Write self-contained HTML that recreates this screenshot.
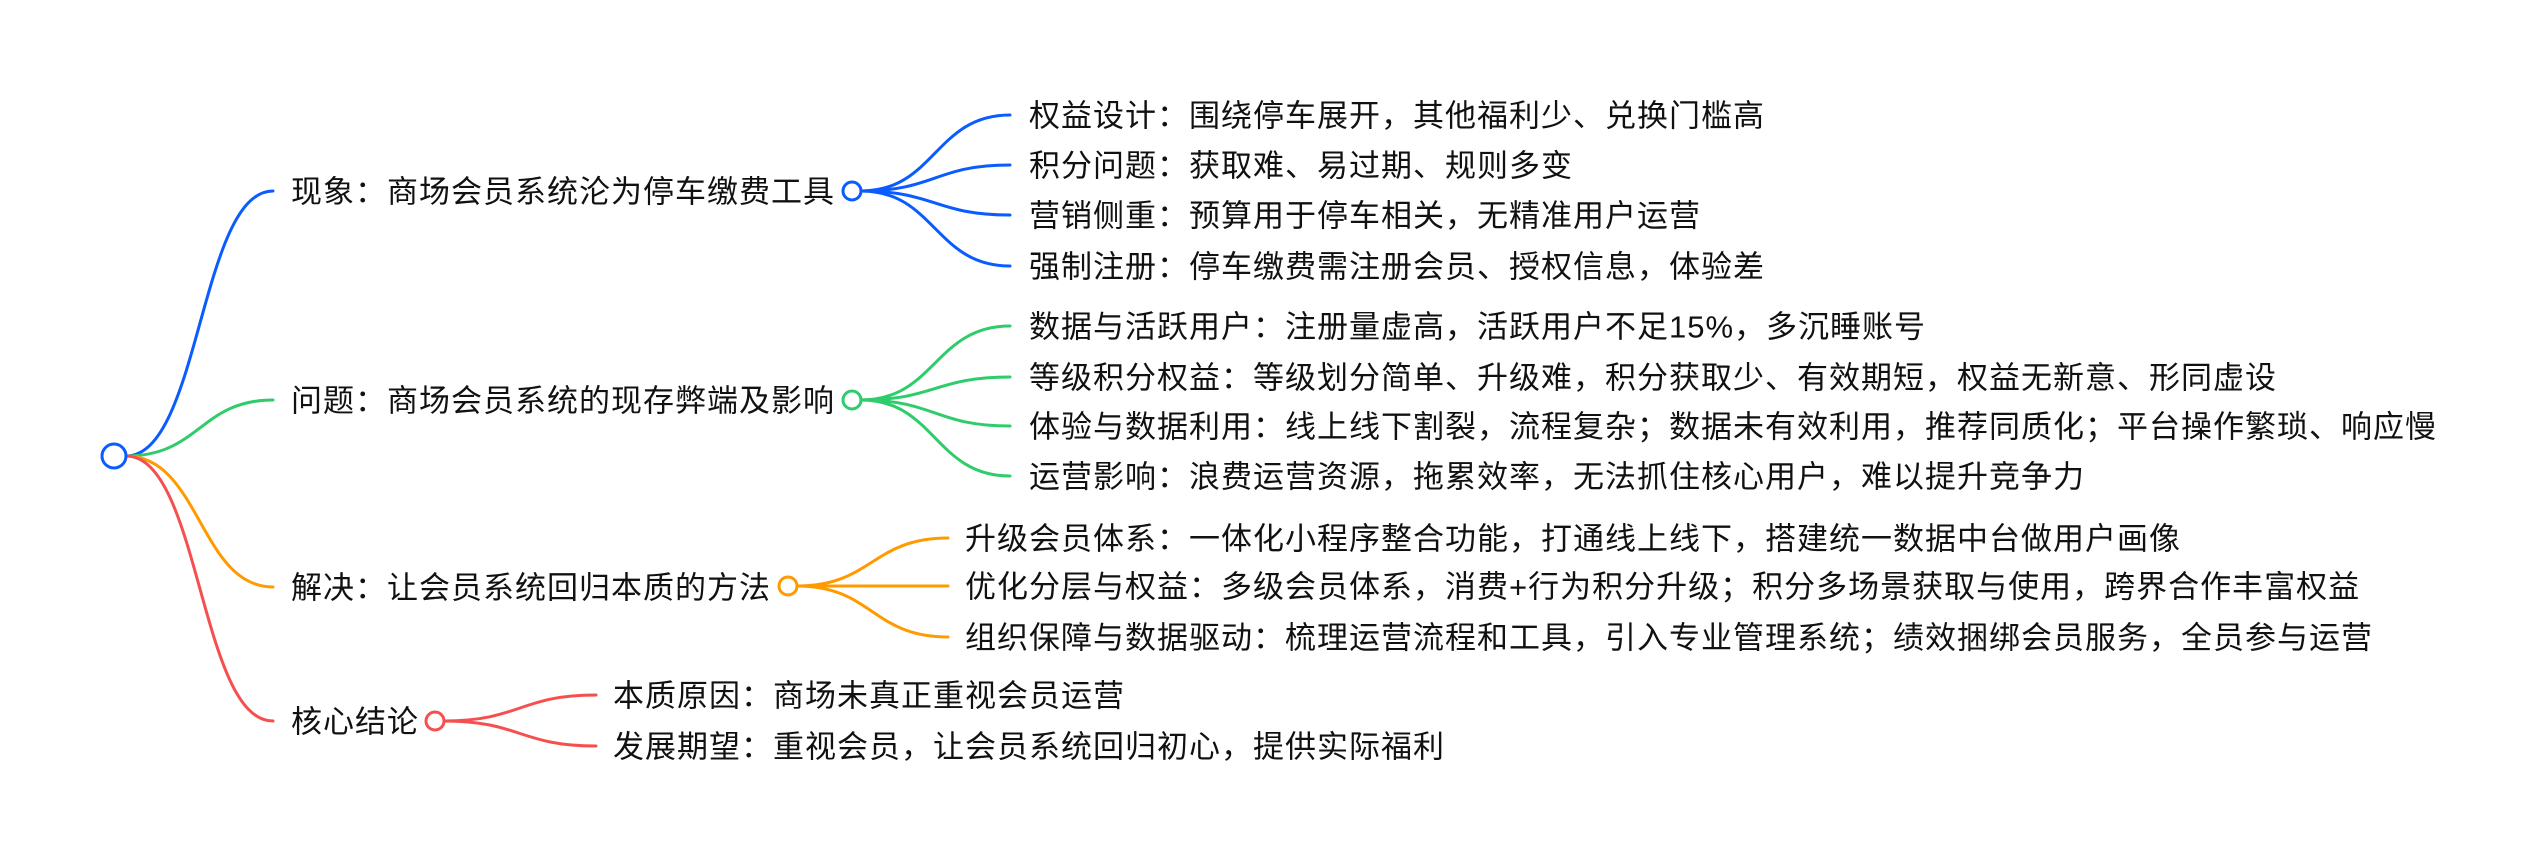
<!DOCTYPE html>
<html><head><meta charset="utf-8"><style>
html,body{margin:0;padding:0;background:#fff;}
svg{display:block;}
text{font-family:"Liberation Sans","Noto Sans CJK SC",sans-serif;font-size:31px;letter-spacing:1px;fill:#111;dominant-baseline:central;}
path{fill:none;stroke-width:3;stroke-linecap:round;}
circle{fill:#fff;stroke-width:3;}
</style></head><body>
<svg width="2534" height="862" viewBox="0 0 2534 862" xmlns="http://www.w3.org/2000/svg">
<!-- root links -->
<path d="M126 456 C200 456,200 191,273 191" stroke="#0a5cff"/>
<path d="M126 456 C200 456,200 400,273 400" stroke="#2fcc6c"/>
<path d="M126 456 C200 456,200 587,273 587" stroke="#ff9a00"/>
<path d="M126 456 C200 456,200 721,273 721" stroke="#f5504f"/>
<circle cx="114" cy="456" r="12" stroke="#0a5cff"/>

<!-- blue -->
<text x="291" y="192">现象：商场会员系统沦为停车缴费工具</text>
<path d="M861 191 C935 191,935 115,1010 115" stroke="#0a5cff"/>
<path d="M861 191 C935 191,935 165,1010 165" stroke="#0a5cff"/>
<path d="M861 191 C935 191,935 215,1010 215" stroke="#0a5cff"/>
<path d="M861 191 C935 191,935 266,1010 266" stroke="#0a5cff"/>
<circle cx="852" cy="191" r="9" stroke="#0a5cff"/>
<text x="1029" y="116">权益设计：围绕停车展开，其他福利少、兑换门槛高</text>
<text x="1029" y="166">积分问题：获取难、易过期、规则多变</text>
<text x="1029" y="216">营销侧重：预算用于停车相关，无精准用户运营</text>
<text x="1029" y="267">强制注册：停车缴费需注册会员、授权信息，体验差</text>

<!-- green -->
<text x="291" y="401">问题：商场会员系统的现存弊端及影响</text>
<path d="M861 400 C935 400,935 326,1010 326" stroke="#2fcc6c"/>
<path d="M861 400 C935 400,935 377,1010 377" stroke="#2fcc6c"/>
<path d="M861 400 C935 400,935 426,1010 426" stroke="#2fcc6c"/>
<path d="M861 400 C935 400,935 476,1010 476" stroke="#2fcc6c"/>
<circle cx="852" cy="400" r="9" stroke="#2fcc6c"/>
<text x="1029" y="327">数据与活跃用户：注册量虚高，活跃用户不足15%，多沉睡账号</text>
<text x="1029" y="378">等级积分权益：等级划分简单、升级难，积分获取少、有效期短，权益无新意、形同虚设</text>
<text x="1029" y="427">体验与数据利用：线上线下割裂，流程复杂；数据未有效利用，推荐同质化；平台操作繁琐、响应慢</text>
<text x="1029" y="477">运营影响：浪费运营资源，拖累效率，无法抓住核心用户，难以提升竞争力</text>

<!-- orange -->
<text x="291" y="588">解决：让会员系统回归本质的方法</text>
<path d="M797 586 C872 586,872 538,948 538" stroke="#ff9a00"/>
<path d="M797 586 L948 586" stroke="#ff9a00"/>
<path d="M797 586 C872 586,872 637,948 637" stroke="#ff9a00"/>
<circle cx="788" cy="586" r="9" stroke="#ff9a00"/>
<text x="965" y="539">升级会员体系：一体化小程序整合功能，打通线上线下，搭建统一数据中台做用户画像</text>
<text x="965" y="587">优化分层与权益：多级会员体系，消费+行为积分升级；积分多场景获取与使用，跨界合作丰富权益</text>
<text x="965" y="638">组织保障与数据驱动：梳理运营流程和工具，引入专业管理系统；绩效捆绑会员服务，全员参与运营</text>

<!-- red -->
<text x="291" y="722">核心结论</text>
<path d="M444 721 C520 721,520 695,596 695" stroke="#f5504f"/>
<path d="M444 721 C520 721,520 746,596 746" stroke="#f5504f"/>
<circle cx="435" cy="721" r="9" stroke="#f5504f"/>
<text x="613" y="696">本质原因：商场未真正重视会员运营</text>
<text x="613" y="747">发展期望：重视会员，让会员系统回归初心，提供实际福利</text>
</svg>
</body></html>
